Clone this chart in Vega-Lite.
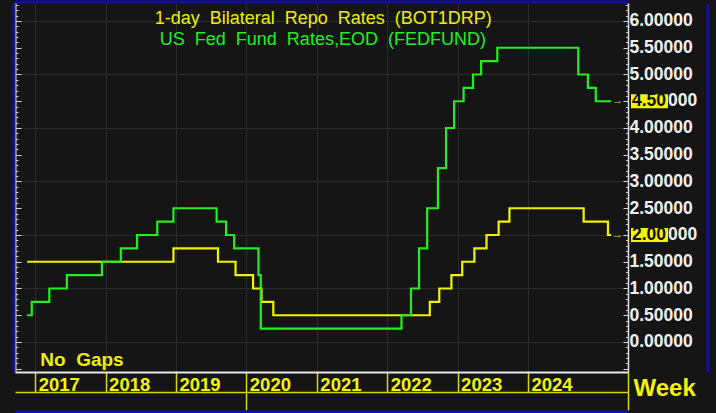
{
  "$schema": "https://vega.github.io/schema/vega-lite/v6.json",
  "width": 613,
  "height": 369,
  "autosize": {"type": "none"},
  "padding": {"left": 15, "top": 3, "right": 88, "bottom": 41},
  "background": "#151515",
  "config": {"view": {"fill": "#151515", "stroke": null}},
  "datasets": {
    "fedfund": [
      {"date": "2016-11-20", "rate": 0.5},
      {"date": "2016-12-14", "rate": 0.75},
      {"date": "2017-03-15", "rate": 1.0},
      {"date": "2017-06-14", "rate": 1.25},
      {"date": "2017-12-13", "rate": 1.5},
      {"date": "2018-03-21", "rate": 1.75},
      {"date": "2018-06-13", "rate": 2.0},
      {"date": "2018-09-26", "rate": 2.25},
      {"date": "2018-12-19", "rate": 2.5},
      {"date": "2019-07-31", "rate": 2.25},
      {"date": "2019-09-18", "rate": 2.0},
      {"date": "2019-10-30", "rate": 1.75},
      {"date": "2020-03-04", "rate": 1.25},
      {"date": "2020-03-16", "rate": 0.25},
      {"date": "2022-03-16", "rate": 0.5},
      {"date": "2022-05-04", "rate": 1.0},
      {"date": "2022-06-15", "rate": 1.75},
      {"date": "2022-07-27", "rate": 2.5},
      {"date": "2022-09-21", "rate": 3.25},
      {"date": "2022-11-02", "rate": 4.0},
      {"date": "2022-12-14", "rate": 4.5},
      {"date": "2023-02-01", "rate": 4.75},
      {"date": "2023-03-22", "rate": 5.0},
      {"date": "2023-05-03", "rate": 5.25},
      {"date": "2023-07-26", "rate": 5.5},
      {"date": "2024-09-18", "rate": 5.0},
      {"date": "2024-11-07", "rate": 4.75},
      {"date": "2024-12-18", "rate": 4.5},
      {"date": "2025-03-07", "rate": 4.5}
    ],
    "bot": [
      {"date": "2016-11-20", "rate": 1.5},
      {"date": "2018-12-19", "rate": 1.75},
      {"date": "2019-08-07", "rate": 1.5},
      {"date": "2019-11-06", "rate": 1.25},
      {"date": "2020-02-05", "rate": 1.0},
      {"date": "2020-03-20", "rate": 0.75},
      {"date": "2020-05-20", "rate": 0.5},
      {"date": "2022-08-10", "rate": 0.75},
      {"date": "2022-09-28", "rate": 1.0},
      {"date": "2022-11-30", "rate": 1.25},
      {"date": "2023-01-25", "rate": 1.5},
      {"date": "2023-03-29", "rate": 1.75},
      {"date": "2023-05-31", "rate": 2.0},
      {"date": "2023-08-02", "rate": 2.25},
      {"date": "2023-09-27", "rate": 2.5},
      {"date": "2024-10-16", "rate": 2.25},
      {"date": "2025-02-19", "rate": 2.0},
      {"date": "2025-03-07", "rate": 2.0}
    ],
    "last": [
      {"series": "BOT1DRP", "date": "2025-03-07", "rate": 2.0},
      {"series": "FEDFUND", "date": "2025-03-07", "rate": 4.5}
    ]
  },
  "resolve": {"axis": {"x": "independent", "y": "independent"}},
  "layer": [
    {
      "data": {"name": "bot"},
      "mark": {"type": "line", "interpolate": "step-after", "color": "#f2f200", "strokeWidth": 2.2},
      "encoding": {
        "x": {
          "field": "date", "type": "temporal",
          "scale": {"domain": [{"year": 2016, "month": 9, "date": 18}, {"year": 2025, "month": 6, "date": 3}], "nice": false},
          "axis": {
            "orient": "bottom", "offset": 20, "title": "Week",
            "values": [{"year": 2020, "month": 1, "date": 1}, {"year": 2025, "month": 6, "date": 3}],
            "labels": false, "ticks": true, "tickSize": 18, "tickColor": "#d8d800", "tickWidth": 1.5,
            "domain": true, "domainColor": "#d8d800", "domainWidth": 1.5, "grid": false,
            "titleX": 618, "titleY": 3, "titleAlign": "left", "titleBaseline": "alphabetic", "titleAngle": 0,
            "titleColor": "#f5f500", "titleFont": "Liberation Sans", "titleFontWeight": "bold", "titleFontSize": 24
          }
        },
        "y": {
          "field": "rate", "type": "quantitative",
          "scale": {"domain": [-0.561, 6.336], "nice": false, "zero": false},
          "axis": {
            "orient": "right", "title": null,
            "values": [-0.5, 0, 0.5, 1, 1.5, 2, 2.5, 3, 3.5, 4, 4.5, 5, 5.5, 6],
            "labels": false, "ticks": true, "tickSize": -5, "tickColor": "#dcdcdc", "tickWidth": 1,
            "domain": false, "grid": false
          }
        }
      }
    },
    {
      "data": {"name": "fedfund"},
      "mark": {"type": "line", "interpolate": "step-after", "color": "#22ee22", "strokeWidth": 2.2},
      "encoding": {
        "x": {
          "field": "date", "type": "temporal",
          "scale": {"domain": [{"year": 2016, "month": 9, "date": 18}, {"year": 2025, "month": 6, "date": 3}], "nice": false},
          "axis": {
            "orient": "bottom", "title": null,
            "values": [
              {"year": 2017, "month": 1, "date": 1}, {"year": 2018, "month": 1, "date": 1},
              {"year": 2019, "month": 1, "date": 1}, {"year": 2020, "month": 1, "date": 1},
              {"year": 2021, "month": 1, "date": 1}, {"year": 2022, "month": 1, "date": 1},
              {"year": 2023, "month": 1, "date": 1}, {"year": 2024, "month": 1, "date": 1},
              {"year": 2025, "month": 6, "date": 3}
            ],
            "labelExpr": "month(datum.value) == 0 ? timeFormat(datum.value, '%Y') : ''",
            "labelAlign": "left", "labelBaseline": "alphabetic", "labelOffset": 3, "labelPadding": -2,
            "labelColor": "#f5f500", "labelFont": "Liberation Sans", "labelFontWeight": "bold", "labelFontSize": 18.5,
            "labelOverlap": false, "labelFlush": false, "labelBound": false,
            "ticks": true, "tickSize": 20, "tickColor": "#d8d800", "tickWidth": 1.5,
            "domain": true, "domainColor": "#e8e8e8", "domainWidth": 2,
            "grid": true, "gridColor": "#2c2c2c", "gridWidth": 1
          }
        },
        "y": {
          "field": "rate", "type": "quantitative",
          "scale": {"domain": [-0.561, 6.336], "nice": false, "zero": false},
          "axis": {
            "orient": "right", "title": null,
            "values": [0, 0.5, 1, 1.5, 2, 2.5, 3, 3.5, 4, 4.5, 5, 5.5, 6],
            "labelExpr": "datum.value == 4.5 || datum.value == 2 ? '' : format(datum.value, '.5f')",
            "labels": true, "ticks": false, "tickSize": 0, "labelPadding": 1,
            "labelColor": "#f2f2f2", "labelFont": "Liberation Sans",
            "labelFontWeight": "bold", "labelFontSize": 17.5, "labelOverlap": false, "labelFlush": false,
            "domain": true, "domainColor": "#e0e0e0", "domainWidth": 1.5, "grid": false
          }
        }
      }
    },
    {
      "data": {"name": "last"},
      "mark": {"type": "point", "shape": "M0.3,-0.7H4V0.7H0.3Z", "size": 400, "filled": true, "color": "#f5f500", "opacity": 1, "strokeWidth": 0},
      "encoding": {
        "x": {
          "datum": {"year": 2025, "month": 6, "date": 3}, "type": "temporal",
          "scale": {"domain": [{"year": 2016, "month": 9, "date": 18}, {"year": 2025, "month": 6, "date": 3}], "nice": false},
          "axis": null
        },
        "y": {
          "field": "rate", "type": "quantitative",
          "scale": {"domain": [-0.561, 6.336], "nice": false, "zero": false},
          "axis": {
            "orient": "right", "title": null,
            "values": [-0.5, -0.4, -0.3, -0.2, -0.1, 0, 0.1, 0.2, 0.3, 0.4, 0.5, 0.6, 0.7, 0.8, 0.9, 1, 1.1, 1.2, 1.3, 1.4, 1.5, 1.6, 1.7, 1.8, 1.9, 2, 2.1, 2.2, 2.3, 2.4, 2.5, 2.6, 2.7, 2.8, 2.9, 3, 3.1, 3.2, 3.3, 3.4, 3.5, 3.6, 3.7, 3.8, 3.9, 4, 4.1, 4.2, 4.3, 4.4, 4.5, 4.6, 4.7, 4.8, 4.9, 5, 5.1, 5.2, 5.3, 5.4, 5.5, 5.6, 5.7, 5.8, 5.9, 6, 6.1, 6.2, 6.3],
            "labels": false, "ticks": true, "tickSize": -2.5, "tickColor": "#cfcfcf", "tickWidth": 1,
            "domain": false, "grid": false
          }
        }
      }
    },
    {
      "data": {"name": "last"},
      "mark": {"type": "text", "align": "left", "baseline": "middle", "dx": 4, "color": "#111111", "font": "Liberation Sans", "fontWeight": "bold", "fontSize": 17.5},
      "encoding": {
        "x": {
          "datum": {"year": 2025, "month": 6, "date": 3}, "type": "temporal",
          "scale": {"domain": [{"year": 2016, "month": 9, "date": 18}, {"year": 2025, "month": 6, "date": 3}], "nice": false},
          "axis": null
        },
        "y": {
          "field": "rate", "type": "quantitative",
          "scale": {"domain": [-0.561, 6.336], "nice": false, "zero": false},
          "axis": {
            "orient": "left", "title": null,
            "values": [-0.5, 0, 0.5, 1, 1.5, 2, 2.5, 3, 3.5, 4, 4.5, 5, 5.5, 6],
            "labels": false, "ticks": true, "tickSize": -6, "tickColor": "#dcdcdc", "tickWidth": 1,
            "domain": true, "domainColor": "#e0e0e0", "domainWidth": 2, "grid": false
          }
        },
        "text": {"field": "rate", "type": "quantitative", "format": ".2f"}
      }
    },
    {
      "data": {"name": "last"},
      "mark": {"type": "text", "text": "000", "align": "left", "baseline": "middle", "dx": 40, "color": "#f2f2f2", "font": "Liberation Sans", "fontWeight": "bold", "fontSize": 17.5},
      "encoding": {
        "x": {
          "datum": {"year": 2025, "month": 6, "date": 3}, "type": "temporal",
          "scale": {"domain": [{"year": 2016, "month": 9, "date": 18}, {"year": 2025, "month": 6, "date": 3}], "nice": false},
          "axis": null
        },
        "y": {
          "field": "rate", "type": "quantitative",
          "scale": {"domain": [-0.561, 6.336], "nice": false, "zero": false},
          "axis": {
            "orient": "right", "title": null, "offset": 79.5,
            "labels": false, "ticks": false, "grid": false,
            "domain": true, "domainColor": "#1010a8", "domainWidth": 3
          }
        }
      }
    },
    {
      "data": {"name": "last"},
      "mark": {"type": "text", "text": "→", "align": "left", "baseline": "middle", "dx": 1, "color": "#d8d800", "font": "Liberation Sans", "fontSize": 11},
      "encoding": {
        "x": {
          "field": "date", "type": "temporal",
          "scale": {"domain": [{"year": 2016, "month": 9, "date": 18}, {"year": 2025, "month": 6, "date": 3}], "nice": false},
          "axis": {
            "orient": "bottom", "title": null, "offset": 39.5,
            "labels": false, "ticks": false, "grid": false,
            "domain": true, "domainColor": "#1010a8", "domainWidth": 3
          }
        },
        "y": {
          "field": "rate", "type": "quantitative",
          "scale": {"domain": [-0.561, 6.336], "nice": false, "zero": false},
          "axis": {
            "orient": "left", "title": null,
            "values": [-0.5, -0.4, -0.3, -0.2, -0.1, 0, 0.1, 0.2, 0.3, 0.4, 0.5, 0.6, 0.7, 0.8, 0.9, 1, 1.1, 1.2, 1.3, 1.4, 1.5, 1.6, 1.7, 1.8, 1.9, 2, 2.1, 2.2, 2.3, 2.4, 2.5, 2.6, 2.7, 2.8, 2.9, 3, 3.1, 3.2, 3.3, 3.4, 3.5, 3.6, 3.7, 3.8, 3.9, 4, 4.1, 4.2, 4.3, 4.4, 4.5, 4.6, 4.7, 4.8, 4.9, 5, 5.1, 5.2, 5.3, 5.4, 5.5, 5.6, 5.7, 5.8, 5.9, 6, 6.1, 6.2, 6.3],
            "labels": false, "ticks": true, "tickSize": -3, "tickColor": "#cfcfcf", "tickWidth": 1,
            "domain": false, "grid": false
          }
        }
      }
    },
    {
      "data": {"values": [{}]},
      "mark": {"type": "text", "text": "1-day\u00a0 Bilateral\u00a0 Repo\u00a0 Rates\u00a0 (BOT1DRP)", "align": "center", "baseline": "alphabetic", "color": "#f0f000", "font": "Liberation Sans", "fontSize": 18},
      "encoding": {
        "x": {
          "datum": {"year": 2021, "month": 2, "date": 3}, "type": "temporal",
          "scale": {"domain": [{"year": 2016, "month": 9, "date": 18}, {"year": 2025, "month": 6, "date": 3}], "nice": false},
          "axis": {
            "orient": "top", "title": null, "offset": 1.5,
            "labels": false, "ticks": false, "grid": false,
            "domain": true, "domainColor": "#1010a8", "domainWidth": 3
          }
        },
        "y": {
          "datum": 5.944, "type": "quantitative",
          "scale": {"domain": [-0.561, 6.336], "nice": false, "zero": false},
          "axis": {
            "orient": "left", "title": null, "values": [0, 1, 2, 3, 4, 5, 6],
            "labels": false, "ticks": false, "domain": false,
            "grid": true, "gridColor": "#2c2c2c", "gridWidth": 1
          }
        }
      }
    },
    {
      "data": {"values": [{}]},
      "mark": {"type": "text", "text": "US\u00a0 Fed\u00a0 Fund\u00a0 Rates,EOD\u00a0 (FEDFUND)", "align": "center", "baseline": "alphabetic", "color": "#22ee22", "font": "Liberation Sans", "fontSize": 18},
      "encoding": {
        "x": {
          "datum": {"year": 2021, "month": 2, "date": 1}, "type": "temporal",
          "scale": {"domain": [{"year": 2016, "month": 9, "date": 18}, {"year": 2025, "month": 6, "date": 3}], "nice": false},
          "axis": null
        },
        "y": {
          "datum": 5.551, "type": "quantitative",
          "scale": {"domain": [-0.561, 6.336], "nice": false, "zero": false},
          "axis": {
            "orient": "left", "title": null, "offset": 1.5,
            "labels": false, "ticks": false, "grid": false,
            "domain": true, "domainColor": "#1010a8", "domainWidth": 3
          }
        }
      }
    },
    {
      "data": {"values": [{}]},
      "mark": {"type": "text", "text": "No\u00a0 Gaps", "align": "left", "baseline": "alphabetic", "color": "#f0f000", "font": "Liberation Sans", "fontWeight": "bold", "fontSize": 19},
      "encoding": {
        "x": {
          "datum": {"year": 2017, "month": 1, "date": 27}, "type": "temporal",
          "scale": {"domain": [{"year": 2016, "month": 9, "date": 18}, {"year": 2025, "month": 6, "date": 3}], "nice": false},
          "axis": null
        },
        "y": {
          "datum": -0.449, "type": "quantitative",
          "scale": {"domain": [-0.561, 6.336], "nice": false, "zero": false},
          "axis": null
        }
      }
    }
  ]
}
